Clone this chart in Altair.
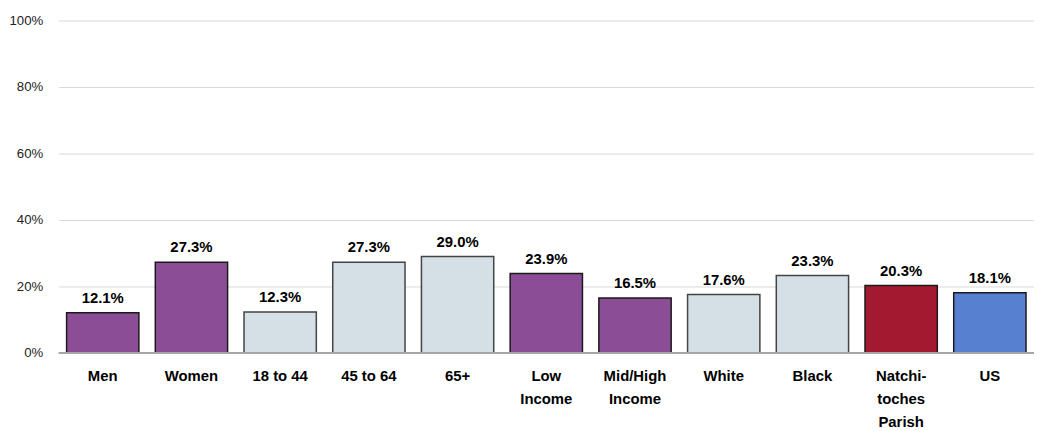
import altair as alt
import pandas as pd

categories = ["Men", "Women", "18 to 44", "45 to 64", "65+", "Low\nIncome",
              "Mid/High\nIncome", "White", "Black", "Natchi-\ntoches\nParish", "US"]
values = [12.1, 27.3, 12.3, 27.3, 29.0, 23.9, 16.5, 17.6, 23.3, 20.3, 18.1]
groups = ["Sex", "Sex", "Age", "Age", "Age", "Income", "Income", "Race", "Race", "Parish", "US"]
group_names = ["Sex", "Age", "Income", "Race", "Parish", "US"]
group_colors = ["#8b4e96", "#d4e0e5", "#8b4e96", "#d4e0e5", "#a31a30", "#5781d0"]
group_strokes = ["#1a1a1a", "#444444", "#1a1a1a", "#444444", "#1a1a1a", "#1a1a1a"]

df = pd.DataFrame({"cat": categories, "val": values, "grp": groups})
df["lbl"] = df["val"].map(lambda v: f"{v:.1f}%")

FONT = "Liberation Sans"

x = alt.X("cat:N", sort=categories, title=None,
          scale=alt.Scale(paddingInner=0.185, paddingOuter=0.09),
          axis=alt.Axis(labelAngle=0, labelExpr="split(datum.label, '\\n')",
                        labelFontWeight="bold", labelFontSize=15, labelColor="#000",
                        labelFont=FONT, labelLineHeight=23, labelPadding=16,
                        ticks=False, domain=False, labelBaseline="top"))
y = alt.Y("val:Q", title=None,
          scale=alt.Scale(domain=[0, 100], nice=False),
          axis=alt.Axis(values=[0, 20, 40, 60, 80, 100], labelExpr="datum.value + '%'",
                        labelFont=FONT, labelFontSize=13.3, labelColor="#222",
                        labelPadding=16, ticks=False, domain=False,
                        gridColor="#d9d9d9", gridWidth=1))

base = alt.Chart(df)
bars = base.mark_bar(strokeWidth=1.5).encode(
    x=x, y=y,
    color=alt.Color("grp:N", scale=alt.Scale(domain=group_names, range=group_colors), legend=None),
    stroke=alt.Stroke("grp:N", scale=alt.Scale(domain=group_names, range=group_strokes), legend=None),
)
texts = base.mark_text(baseline="bottom", dy=-7, font=FONT, fontSize=15,
                       fontWeight="bold", color="#000").encode(
    x=alt.X("cat:N", sort=categories), y="val:Q", text="lbl:N")
zero = alt.Chart(pd.DataFrame({"z": [0]})).mark_rule(color="#a6a6a6", strokeWidth=2).encode(y="z:Q")

chart = alt.layer(bars, zero, texts).properties(
    width=983, height=335,
    autosize=alt.AutoSizeParams(type="none"),
    padding={"left": 51, "top": 11, "right": 0, "bottom": 77},
).configure_view(stroke=None)

chart.save("out.html", embed_options={"renderer": "svg", "actions": False})
